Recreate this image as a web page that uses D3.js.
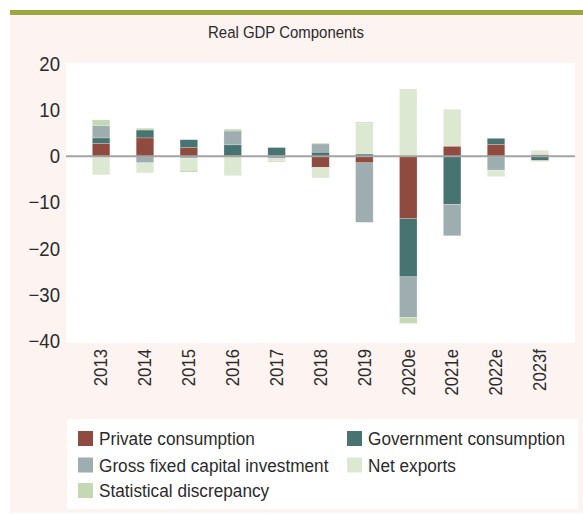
<!DOCTYPE html>
<html>
<head>
<meta charset="utf-8">
<script src="https://d3js.org/d3.v7.min.js"></script>
<style>
    body { margin: 0; background: #fff; }
    svg text { font-family: "Liberation Sans", Arial, sans-serif; fill: #2b2b2b; }
</style>
</head>
<body>
<svg></svg>
<script>
    // values (percentage point contributions)
    var years = ["2013", "2014", "2015", "2016", "2017", "2018", "2019", "2020e", "2021e", "2022e", "2023f"]
    var privateConsumption = [2.8, 4.0, 1.9, 0.1, 0.2, -2.4, -1.4, -13.5, 2.2, 2.6, 0.4]
    var governmentConsumption = [1.2, 1.7, 1.7, 2.4, 1.7, 0.9, 0.5, -12.6, -10.4, 1.3, -0.9]
    var grossFixedInvestment = [2.7, -1.4, -0.4, 3.0, -0.5, 1.8, -12.9, -8.8, -6.8, -3.0, 0]
    var netExports = [-4.0, -2.2, -2.6, -4.2, -0.4, -2.3, 6.6, 14.6, 8.0, -1.4, 0.9]
    var statDiscrepancy = [1.2, 0.4, -0.4, 0.4, -0.3, 0.2, 0.3, -1.3, 0, 0, -0.2]
    var yTicks = [-40, -30, -20, -10, 0, 10, 20]

    var seriesNames = ["Private consumption", "Government consumption", "Gross fixed capital investment", "Net exports", "Statistical discrepancy"]
    var seriesValues = [privateConsumption, governmentConsumption, grossFixedInvestment, netExports, statDiscrepancy]
    var colors = ["#8f4b3f", "#477370", "#9dadb0", "#dde8d3", "#c4d9b3"]

    var width = 583, height = 514
    var narrow = "scale(0.93,1)"   // fake a condensed face
    var svg = d3.select("svg").attr("width", width).attr("height", height)

    // panel background + top rule
    svg.append("rect").attr("x", 10).attr("y", 15).attr("width", width - 10).attr("height", height - 16).attr("fill", "#fdf4f2")
    svg.append("rect").attr("x", 10).attr("y", 10).attr("width", width - 10).attr("height", 5).attr("fill", "#9ba83b")

    // plot area
    var plot = {left: 66, right: 575, top: 63, bottom: 343}
    svg.append("rect").attr("x", plot.left).attr("y", plot.top)
        .attr("width", plot.right - plot.left).attr("height", plot.bottom - plot.top).attr("fill", "#fff")

    svg.append("g").attr("transform", "translate(286,38)")
        .append("text").attr("text-anchor", "middle").attr("transform", "scale(0.88,1)")
        .style("font-size", "17px").text("Real GDP Components")

    var x = d3.scaleBand().domain(years).range([plot.left, plot.right]).padding(0.6)
    var y = d3.scaleLinear().domain([-40, 20]).range([341, 64])

    // build the table for d3.stack
    var table = years.map(function(yr, i) {
        var row = {year: yr}
        seriesNames.forEach(function(s, j) { row[s] = seriesValues[j][i] })
        return row
    })
    var stacked = d3.stack().keys(seriesNames).offset(d3.stackOffsetDiverging)(table)

    svg.append("g").selectAll("g")
        .data(stacked)
        .enter().append("g")
        .attr("fill", function(d, i) { return colors[i] })
        .selectAll("rect")
        .data(function(d) { return d })
        .enter().append("rect")
        .attr("x", function(d) { return x(d.data.year) })
        .attr("width", x.bandwidth())
        .attr("y", function(d) { return y(Math.max(d[0], d[1])) })
        .attr("height", function(d) { return Math.abs(y(d[0]) - y(d[1])) })
        .attr("stroke", "#fff").attr("stroke-opacity", 0.35).attr("stroke-width", 0.6)

    // zero line
    svg.append("line").attr("x1", plot.left).attr("x2", plot.right)
        .attr("y1", y(0)).attr("y2", y(0)).attr("stroke", "#a3a3a3").attr("stroke-width", 2)

    // y axis labels
    var yAxis = svg.append("g").attr("transform", "translate(" + plot.left + ",0)")
        .call(d3.axisLeft(y).tickValues(yTicks).tickSize(0).tickPadding(6)
            .tickFormat(function(d) { return d < 0 ? "\u2212" + Math.abs(d) : d }))
    yAxis.select(".domain").remove()
    yAxis.selectAll("text")
        .style("font-size", "20px").style("font-family", null).attr("fill", "#2b2b2b")
        .attr("x", 0).attr("transform", "translate(-6,0) " + narrow)

    // x axis labels (rotated)
    var xAxis = svg.append("g").attr("transform", "translate(0," + plot.bottom + ")")
        .call(d3.axisBottom(x).tickSize(0))
    xAxis.select(".domain").remove()
    xAxis.selectAll("text")
        .style("font-size", "18px").style("font-family", null).attr("fill", "#2b2b2b")
        .attr("text-anchor", "end")
        .attr("dy", "0.35em")
        .attr("transform", "translate(0,6) rotate(-90) " + narrow)
        .attr("x", 0).attr("y", 0)

    // legend
    svg.append("rect").attr("x", 67).attr("y", 419).attr("width", 511).attr("height", 90).attr("fill", "#fff")
    var legendPos = [[78, 431], [347, 431], [78, 457.5], [347, 457.5], [78, 483]]
    var legend = svg.append("g").selectAll("g")
        .data(seriesNames)
        .enter().append("g")
        .attr("transform", function(d, i) { return "translate(" + legendPos[i][0] + "," + legendPos[i][1] + ")" })
    legend.append("rect").attr("width", 15).attr("height", 15).attr("fill", function(d, i) { return colors[i] })
    legend.append("g").attr("transform", "translate(21,14)")
        .append("text").attr("transform", narrow)
        .style("font-size", "18.5px").text(function(d) { return d })
</script>
</body>
</html>
